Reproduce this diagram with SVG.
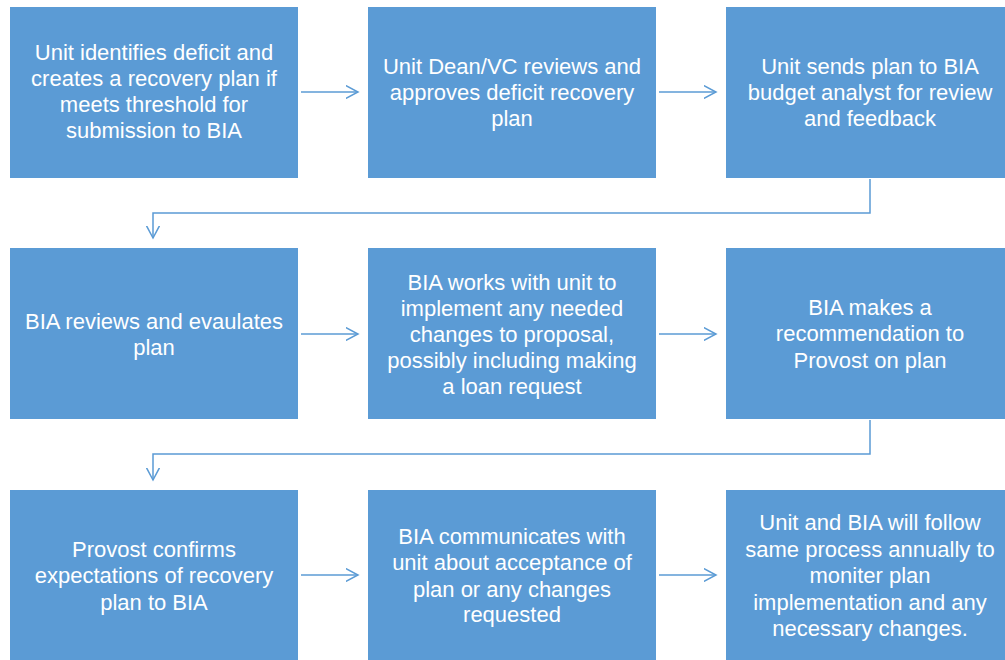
<svg xmlns="http://www.w3.org/2000/svg" width="1005" height="660" viewBox="0 0 1005 660">
  <defs>
    <style>
      .box { fill: #5B9BD5; }
      .lbl { font-family: "Liberation Sans", Arial, sans-serif; font-size: 22px; fill: #FFFFFF; text-anchor: middle; }
      .link { fill: none; stroke: #5B9BD5; stroke-width: 1.5; }
    </style>
    <marker id="chev" markerWidth="14" markerHeight="14" refX="12" refY="7" orient="auto" markerUnits="userSpaceOnUse">
      <path d="M -5 -2 L 12 7 L -5 16" fill="none" stroke="#5B9BD5" stroke-width="1.5"/>
    </marker>
  </defs>
  <rect width="1005" height="660" fill="#FFFFFF"/>

  <g id="connectors">
    <line class="link" x1="301" y1="92" x2="358" y2="92" marker-end="url(#chev)"/>
    <line class="link" x1="659" y1="92" x2="716" y2="92" marker-end="url(#chev)"/>
    <polyline class="link" points="870,179 870,213 153,213 153,238" marker-end="url(#chev)"/>
    <line class="link" x1="301" y1="334" x2="358" y2="334" marker-end="url(#chev)"/>
    <line class="link" x1="659" y1="334" x2="716" y2="334" marker-end="url(#chev)"/>
    <polyline class="link" points="870,420 870,454 153,454 153,480" marker-end="url(#chev)"/>
    <line class="link" x1="301" y1="575" x2="358" y2="575" marker-end="url(#chev)"/>
    <line class="link" x1="659" y1="575" x2="716" y2="575" marker-end="url(#chev)"/>
  </g>

  <g id="n1">
    <rect class="box" x="10" y="7" width="288" height="171"/>
    <text class="lbl" x="154" y="60">Unit identifies deficit and</text>
    <text class="lbl" x="154" y="86">creates a recovery plan if</text>
    <text class="lbl" x="154" y="112">meets threshold for</text>
    <text class="lbl" x="154" y="138">submission to BIA</text>
  </g>
  <g id="n2">
    <rect class="box" x="368" y="7" width="288" height="171"/>
    <text class="lbl" x="512" y="74">Unit Dean/VC reviews and</text>
    <text class="lbl" x="512" y="100">approves deficit recovery</text>
    <text class="lbl" x="512" y="126">plan</text>
  </g>
  <g id="n3">
    <rect class="box" x="726" y="7" width="288" height="171"/>
    <text class="lbl" x="870" y="74">Unit sends plan to BIA</text>
    <text class="lbl" x="870" y="100">budget analyst for review</text>
    <text class="lbl" x="870" y="126">and feedback</text>
  </g>

  <g id="n4">
    <rect class="box" x="10" y="248" width="288" height="171"/>
    <text class="lbl" x="154" y="329">BIA reviews and evaulates</text>
    <text class="lbl" x="154" y="355">plan</text>
  </g>
  <g id="n5">
    <rect class="box" x="368" y="248" width="288" height="171"/>
    <text class="lbl" x="512" y="290">BIA works with unit to</text>
    <text class="lbl" x="512" y="316">implement any needed</text>
    <text class="lbl" x="512" y="342">changes to proposal,</text>
    <text class="lbl" x="512" y="368">possibly including making</text>
    <text class="lbl" x="512" y="394">a loan request</text>
  </g>
  <g id="n6">
    <rect class="box" x="726" y="248" width="288" height="171"/>
    <text class="lbl" x="870" y="315">BIA makes a</text>
    <text class="lbl" x="870" y="341">recommendation to</text>
    <text class="lbl" x="870" y="368">Provost on plan</text>
  </g>

  <g id="n7">
    <rect class="box" x="10" y="490" width="288" height="171"/>
    <text class="lbl" x="154" y="557">Provost confirms</text>
    <text class="lbl" x="154" y="583">expectations of recovery</text>
    <text class="lbl" x="154" y="610">plan to BIA</text>
  </g>
  <g id="n8">
    <rect class="box" x="368" y="490" width="288" height="171"/>
    <text class="lbl" x="512" y="544">BIA communicates with</text>
    <text class="lbl" x="512" y="570">unit about acceptance of</text>
    <text class="lbl" x="512" y="597">plan or any changes</text>
    <text class="lbl" x="512" y="622">requested</text>
  </g>
  <g id="n9">
    <rect class="box" x="726" y="490" width="288" height="171"/>
    <text class="lbl" x="870" y="530">Unit and BIA will follow</text>
    <text class="lbl" x="870" y="557">same process annually to</text>
    <text class="lbl" x="870" y="583">moniter plan</text>
    <text class="lbl" x="870" y="610">implementation and any</text>
    <text class="lbl" x="870" y="636">necessary changes.</text>
  </g>
</svg>
